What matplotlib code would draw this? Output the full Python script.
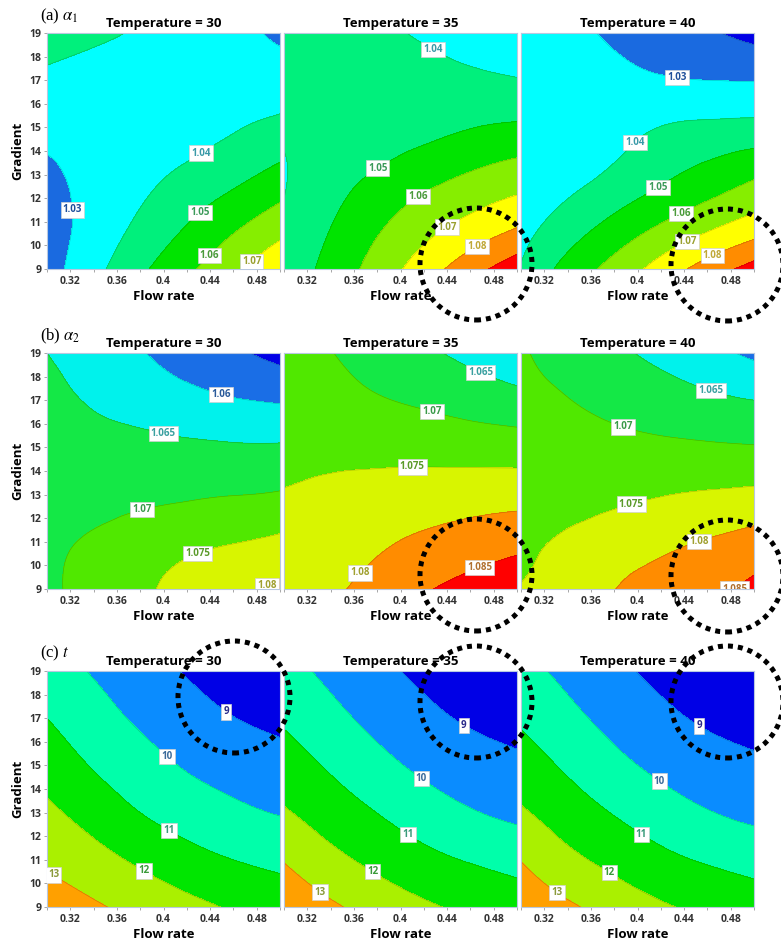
import numpy as np
import matplotlib
matplotlib.use('Agg')
import matplotlib.pyplot as plt
import matplotlib.tri as mtri
from matplotlib.patches import Ellipse

plt.rcParams['font.family'] = ['Open Sans', 'DejaVu Sans']
plt.rcParams['mathtext.fontset'] = 'stix'

# grid of the response surfaces
flow_rate = [0.30, 0.34, 0.38, 0.42, 0.46, 0.50]
gradient = [9, 11, 13, 15, 17, 19]
temperatures = [30, 35, 40]

# rows: gradient 9 -> 19, columns: flow rate 0.30 -> 0.50
alpha1_t30 = [
    [1.026, 1.037, 1.048, 1.058, 1.068, 1.078],
    [1.026, 1.0335, 1.0415, 1.0495, 1.0573, 1.065],
    [1.028, 1.033, 1.037, 1.042, 1.047, 1.053],
    [1.033, 1.033, 1.0338, 1.0358, 1.0392, 1.0424],
    [1.038, 1.036, 1.035, 1.035, 1.035, 1.035],
    [1.045, 1.042, 1.039, 1.036, 1.033, 1.028],
]
alpha1_t35 = [
    [1.043, 1.0535, 1.064, 1.075, 1.086, 1.096],
    [1.041, 1.0495, 1.058, 1.0655, 1.072, 1.078],
    [1.0395, 1.0455, 1.051, 1.0562, 1.0607, 1.0645],
    [1.041, 1.043, 1.045, 1.047, 1.0497, 1.0516],
    [1.043, 1.0437, 1.0437, 1.0428, 1.0416, 1.0405],
    [1.046, 1.0445, 1.042, 1.039, 1.037, 1.034],
]
alpha1_t40 = [
    [1.0405, 1.0535, 1.0635, 1.074, 1.0845, 1.094],
    [1.036, 1.044, 1.052, 1.0595, 1.0665, 1.073],
    [1.032, 1.0363, 1.0418, 1.0478, 1.0532, 1.0585],
    [1.031, 1.033, 1.0365, 1.0402, 1.042, 1.043],
    [1.036, 1.035, 1.033, 1.031, 1.030, 1.0296],
    [1.036, 1.033, 1.028, 1.024, 1.021, 1.017],
]
alpha2_t30 = [
    [1.069, 1.0717, 1.0742, 1.0765, 1.0785, 1.081],
    [1.0685, 1.0707, 1.0725, 1.0738, 1.0748, 1.076],
    [1.067, 1.068, 1.0688, 1.0694, 1.0699, 1.0704],
    [1.067, 1.0665, 1.0662, 1.0658, 1.0655, 1.0655],
    [1.0665, 1.0645, 1.063, 1.0615, 1.0603, 1.0595],
    [1.065, 1.0627, 1.0603, 1.058, 1.0558, 1.0535],
]
alpha2_t35 = [
    [1.076, 1.079, 1.0818, 1.0845, 1.0868, 1.0888],
    [1.0755, 1.0775, 1.0793, 1.0808, 1.0822, 1.0835],
    [1.0752, 1.0762, 1.0769, 1.0774, 1.0778, 1.0781],
    [1.0732, 1.0733, 1.0733, 1.0732, 1.0728, 1.0725],
    [1.0718, 1.0712, 1.0703, 1.0693, 1.068, 1.0667],
    [1.0712, 1.0701, 1.0683, 1.0659, 1.0637, 1.0612],
]
alpha2_t40 = [
    [1.0752, 1.0768, 1.0799, 1.0818, 1.0835, 1.0862],
    [1.0735, 1.0758, 1.0775, 1.0789, 1.0803, 1.0818],
    [1.0715, 1.0728, 1.0739, 1.0748, 1.0755, 1.0761],
    [1.0712, 1.0713, 1.0712, 1.0709, 1.0706, 1.0703],
    [1.0708, 1.0701, 1.0687, 1.0673, 1.066, 1.065],
    [1.0703, 1.0685, 1.066, 1.0638, 1.0615, 1.059],
]
time_t30 = [
    [13.55, 13.13, 12.7, 12.28, 11.9, 11.58],
    [12.84, 12.35, 11.83, 11.36, 11.0, 10.75],
    [12.2, 11.6, 11.0, 10.55, 10.2, 9.95],
    [11.58, 10.93, 10.38, 9.92, 9.6, 9.36],
    [11.0, 10.4, 9.85, 9.4, 9.02, 8.75],
    [10.45, 9.92, 9.4, 8.93, 8.55, 8.25],
]
time_t35 = [
    [13.65, 13.15, 12.6, 12.15, 11.8, 11.5],
    [12.95, 12.28, 11.74, 11.28, 10.93, 10.66],
    [12.1, 11.52, 10.99, 10.48, 10.07, 9.8],
    [11.48, 10.88, 10.3, 9.8, 9.45, 9.2],
    [10.86, 10.28, 9.72, 9.25, 8.87, 8.6],
    [10.32, 9.78, 9.25, 8.78, 8.38, 8.08],
]
time_t40 = [
    [13.62, 13.15, 12.58, 12.12, 11.78, 11.48],
    [12.97, 12.25, 11.72, 11.25, 10.9, 10.64],
    [12.12, 11.5, 10.95, 10.45, 10.05, 9.78],
    [11.48, 10.85, 10.26, 9.78, 9.43, 9.18],
    [10.86, 10.26, 9.7, 9.23, 8.85, 8.58],
    [10.3, 9.76, 9.22, 8.76, 8.36, 8.06],
]

alpha1_levels = [1.00, 1.02, 1.03, 1.04, 1.05, 1.06, 1.07, 1.08, 1.09, 1.12]
alpha2_levels = [1.04, 1.055, 1.06, 1.065, 1.07, 1.075, 1.08, 1.085, 1.10]
time_levels = [7, 9, 10, 11, 12, 13, 15]

# contour labels: (level, flow rate, gradient) for each panel
alpha1_labels = [
    [(1.03, 0.321, 11.5), (1.04, 0.426, 14.4), (1.05, 0.431, 11.4), (1.06, 0.439, 9.6), (1.07, 0.471, 9.6)],
    [(1.04, 0.424, 18.0), (1.05, 0.384, 13.0), (1.06, 0.419, 11.8), (1.07, 0.441, 10.7), (1.08, 0.465, 10.0)],
    [(1.03, 0.434, 17.1), (1.04, 0.399, 14.3), (1.05, 0.416, 12.6), (1.06, 0.436, 11.5), (1.07, 0.441, 10.3), (1.08, 0.463, 9.7)],
]
alpha2_labels = [
    [(1.06, 0.45, 17.3), (1.065, 0.399, 15.4), (1.07, 0.383, 12.1), (1.075, 0.431, 10.3), (1.08, 0.485, 9.45)],
    [(1.065, 0.467, 18.0), (1.07, 0.427, 16.5), (1.075, 0.41, 13.9), (1.08, 0.365, 9.7), (1.085, 0.467, 10.0)],
    [(1.065, 0.463, 17.4), (1.07, 0.388, 15.9), (1.075, 0.394, 12.7), (1.08, 0.453, 11.0), (1.085, 0.475, 9.4)],
]
time_labels = [
    [(9, 0.453, 17.2), (10, 0.40, 15.2), (11, 0.404, 12.2), (12, 0.383, 10.5), (13, 0.31, 10.7)],
    [(9, 0.453, 16.6), (10, 0.416, 14.3), (11, 0.404, 11.9), (12, 0.375, 10.4), (13, 0.332, 9.7)],
    [(9, 0.452, 16.6), (10, 0.417, 14.2), (11, 0.401, 11.9), (12, 0.375, 10.4), (13, 0.332, 9.7)],
]

alpha1_colors = ['#0000e6', '#1a6ae0', '#00ffff', '#00f07c', '#00e400', '#86ee00', '#ffff00', '#ff8c00', '#ff0000']
alpha2_colors = ['#0000e6', '#1a6ee6', '#00f2ec', '#14e846', '#50e800', '#d8f500', '#ff8c00', '#ff0000']
time_colors = ['#0000e6', '#0a8cff', '#00ffaa', '#00e600', '#aaf000', '#ffa000']

alpha1_text = {1.03: '#1f4f9a', 1.04: '#3a9aa8', 1.05: '#3c9a5a', 1.06: '#4a9a3a', 1.07: '#9aa030', 1.08: '#c0a838'}
alpha2_text = {1.06: '#2a5a9a', 1.065: '#3aa0a0', 1.07: '#3a9a4a', 1.075: '#5a9a2a', 1.08: '#a0a030', 1.085: '#b07030'}
time_text = {9: '#2a2a8a', 10: '#3a6a9a', 11: '#3a9a7a', 12: '#3a9a3a', 13: '#8a9a3a'}

rows = [
    dict(tag=r'(a) $\alpha_{\mathit{1}}$', data=[alpha1_t30, alpha1_t35, alpha1_t40],
         levels=alpha1_levels, colors=alpha1_colors, labels=alpha1_labels, text=alpha1_text),
    dict(tag=r'(b) $\alpha_{\mathit{2}}$', data=[alpha2_t30, alpha2_t35, alpha2_t40],
         levels=alpha2_levels, colors=alpha2_colors, labels=alpha2_labels, text=alpha2_text),
    dict(tag=r'(c) $t$', data=[time_t30, time_t35, time_t40],
         levels=time_levels, colors=time_colors, labels=time_labels, text=time_text),
]

W, H = 781, 947
fig = plt.figure(figsize=(W / 100, H / 100), dpi=100)

panel_left = [47, 284, 521]
panel_top = [33, 353, 671]
panel_w, panel_h = 233, 236
tag_y = [16, 336, 653]

# triangulate on unit-scaled coordinates so the smooth refiner behaves evenly
X, Y = np.meshgrid(flow_rate, gradient)
U = (X - flow_rate[0]) / (flow_rate[-1] - flow_rate[0])
V = (Y - gradient[0]) / (gradient[-1] - gradient[0])
tri_unit = mtri.Triangulation(U.ravel(), V.ravel())
refiner = mtri.UniformTriRefiner(tri_unit)

for r, row in enumerate(rows):
    fig.text(40 / W, 1 - tag_y[r] / H, row['tag'], family='Liberation Serif',
             fontsize=12, va='center', ha='left')
    for c, temp in enumerate(temperatures):
        ax = fig.add_axes([panel_left[c] / W, 1 - (panel_top[r] + panel_h) / H,
                           panel_w / W, panel_h / H])
        Z = np.array(row['data'][c], dtype=float)
        tri_f, z_f = refiner.refine_field(Z.ravel(), subdiv=4)
        tri_d = mtri.Triangulation(flow_rate[0] + tri_f.x * (flow_rate[-1] - flow_rate[0]),
                                   gradient[0] + tri_f.y * (gradient[-1] - gradient[0]),
                                   tri_f.triangles)
        ax.tricontourf(tri_d, z_f, levels=row['levels'], colors=row['colors'])
        ax.tricontour(tri_d, z_f, levels=row['levels'][1:-1],
                      colors=[(0, 0, 0, 0.2)], linewidths=0.5)
        # one labelled contour per label so clabel picks the right level
        for lev, lx, ly in row['labels'][c]:
            cl = ax.tricontour(tri_d, z_f, levels=[lev], colors='none', linewidths=0)
            texts = ax.clabel(cl, manual=[(lx, ly)], inline=False,
                              fmt='%g', fontsize=7)
            for t in texts:
                t.set_rotation(0)
                t.set_fontweight('bold')
                t.set_color(row['text'][lev])
                t.set_bbox(dict(boxstyle='square,pad=0.22', fc='white',
                                ec='#d0d0d0', lw=0.5))

        ax.set_xlim(0.30, 0.50)
        ax.set_ylim(9, 19)
        ax.set_xticks([0.32, 0.36, 0.40, 0.44, 0.48])
        ax.set_xticklabels(['0.32', '0.36', '0.4', '0.44', '0.48'], fontweight='bold')
        ax.set_xticks([0.30, 0.34, 0.38, 0.42, 0.46, 0.50], minor=True)
        ax.tick_params(axis='x', which='both', length=2, width=0.6, color='#999999',
                       labelsize=7.5, labelcolor='#333333', pad=3)
        if c == 0:
            ax.set_yticks(range(9, 20))
            ax.set_yticklabels([str(v) for v in range(9, 20)], fontweight='bold')
            ax.tick_params(axis='y', length=2, width=0.6, color='#999999',
                           labelsize=7.5, labelcolor='#333333', pad=2)
            ax.set_ylabel('Gradient', fontsize=9.5, fontweight='bold', labelpad=4)
        else:
            ax.tick_params(axis='y', left=False, labelleft=False)
        ax.set_xlabel('Flow rate', fontsize=9.5, fontweight='bold', labelpad=2)
        ax.set_title(f'Temperature = {temp}', fontsize=9.5, fontweight='bold', pad=4)
        for sp in ax.spines.values():
            sp.set_color('#b8c8e0')
            sp.set_linewidth(0.8)

# dotted highlight circles (pixel centres)
circles = [(476, 264), (727, 265), (476, 575), (727, 576), (234, 697), (476, 702), (727, 702)]
radius = 56
for cx, cy in circles:
    e = Ellipse((cx / W, 1 - cy / H), 2 * radius / W, 2 * radius / H,
                transform=fig.transFigure, fill=False, ec='black', lw=3.6,
                ls=(0, (1, 1)), zorder=20)
    fig.add_artist(e)

fig.savefig('out.png', dpi=100)
